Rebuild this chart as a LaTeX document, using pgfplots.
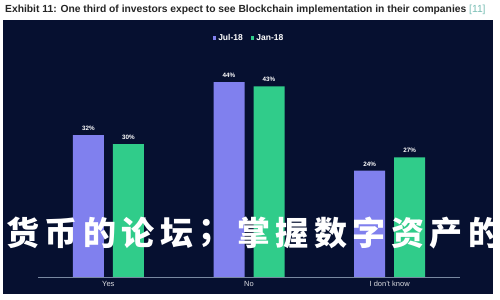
\documentclass[border=0pt]{standalone}
\usepackage{fontspec}
\setmainfont{Liberation Sans}
\newfontfamily\cjk{Noto Sans CJK SC}
\usepackage{pgfplots}
\pgfplotsset{compat=1.18}
\definecolor{navy}{RGB}{6,16,48}
\definecolor{julc}{RGB}{128,128,238}
\definecolor{janc}{RGB}{48,204,138}
\definecolor{refc}{RGB}{120,190,180}
\definecolor{axc}{RGB}{120,136,160}
\begin{document}
\begin{tikzpicture}
\useasboundingbox (0,0) rectangle (500bp,300bp);
\fill[white] (0,0) rectangle (500bp,300bp);
\fill[navy] (3bp,6bp) rectangle (493bp,280bp);
\node[anchor=west,inner sep=0pt,font=\bfseries\fontsize{10.3bp}{12bp}\selectfont,text=black!85] at (5bp,290bp)
  {Exhibit 11: One third of investors expect to see Blockchain implementation in their companies \textcolor{refc}{\mdseries[11]}};
\begin{axis}[
  at={(38bp,23bp)}, anchor=south west,
  scale only axis, width=422bp, height=257bp,
  xmin=-0.5, xmax=2.5, ymin=0, ymax=58,
  axis x line=bottom, axis y line=none,
  axis line style={-, draw=axc, line width=0.6pt},
  xtick={0,1,2}, xticklabels={Yes,No,I don't know},
  major tick length=0pt,
  /pgf/number format/assume math mode=true,
  xticklabel style={text=white!85!navy, font=\fontsize{7.5bp}{8bp}\selectfont, yshift=-0.5bp},
  ybar=9bp, bar width=31bp,
  nodes near coords={\pgfmathprintnumber{\pgfplotspointmeta}\%},
  every node near coord/.append style={text=white, font=\bfseries\fontsize{6.3bp}{7bp}\selectfont, yshift=1bp},
  legend style={at={(0.5,0.93)}, anchor=center, draw=none, fill=none,
    text=white, font=\bfseries\fontsize{8.5bp}{9bp}\selectfont, legend columns=2,
    /tikz/every even column/.append style={column sep=6bp}},
  legend image code/.code={\fill[#1] (0bp,-1.8bp) rectangle (3.6bp,1.8bp);},
]
\addplot[fill=julc, draw=none] coordinates {(0,32) (1,44) (2,24)};
\addplot[fill=janc, draw=none] coordinates {(0,30) (1,43) (2,27)};
\legend{Jul-18, Jan-18}
\end{axis}
\foreach \c [count=\i from 0] in {货,币,的,论,坛,；,掌,握,数,字,资,产,的}
  \node[anchor=west, inner sep=0pt, text=white, font=\cjk\bfseries\fontsize{33bp}{33bp}\selectfont] at ({6bp+\i*38.5bp}, 67bp) {\c};
\end{tikzpicture}
\end{document}
